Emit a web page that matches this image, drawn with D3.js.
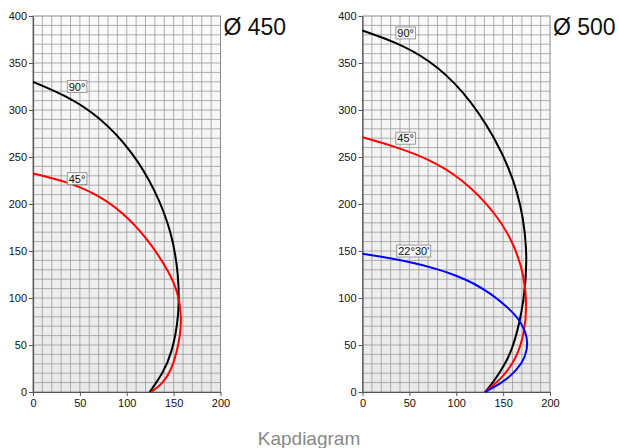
<!DOCTYPE html>
<html>
<head>
<meta charset="utf-8">
<script src="https://cdn.jsdelivr.net/npm/d3@7"></script>
<style>
body{margin:0;background:#fff;}
svg{display:block;font-family:"Liberation Sans",Arial,Helvetica,sans-serif;}
</style>
</head>
<body>
<svg id="chart" width="619" height="448"></svg>
<script>
// ---- data ----
const xTicks = [0, 50, 100, 150, 200];
const yTicks = [0, 50, 100, 150, 200, 250, 300, 350, 400];
const titles = ["Ø 450", "Ø 500"];
const footer = "Kapdiagram";

const d450_90 = [[0,330],[35,315.5],[71,293],[106,256],[131,214],[148,170],[155.5,125],[156,80],[148,41],[138.6,20],[124.5,0]];
const d450_45 = [[0,232.5],[35.5,224],[71,209.5],[103,185],[128,155],[146,126],[155,105],[158.5,80],[157,60],[153,41],[147.5,23.4],[138.6,9.2],[126.2,0]];

const d500_90 = [[0,384.5],[35,372.5],[70.6,354],[106,323],[142,271],[167,214],[176.5,152],[173,98],[161.5,48],[150.4,26.7],[139.7,10.7],[130.8,0]];
const d500_45 = [[0,271],[35,261],[70.6,248],[106,227.5],[142,191],[161,158.7],[172.5,125],[175.5,90],[172.5,62.5],[165,37.4],[150.4,16],[130.8,0]];
const d500_22 = [[0,147],[50,139],[82.7,130],[100.5,123.7],[118.3,115.9],[136.1,105.2],[154,91],[166.4,78.5],[174,64.2],[176.5,51.8],[174,37.4],[164.7,23.2],[150.4,10.7],[130.8,0]];

const labels450 = [{t:"90°", x:36, y:325}, {t:"45°", x:36, y:227}];
const labels500 = [{t:"90°", x:35, y:382}, {t:"45°", x:35, y:270}, {t:"22°30'", x:36, y:150}];

const charts = [
  {left:33, title:titles[0], series:[{d:d450_90,c:"#000"},{d:d450_45,c:"#ff0000"}], labels:labels450},
  {left:362.5, title:titles[1], series:[{d:d500_90,c:"#000"},{d:d500_45,c:"#ff0000"},{d:d500_22,c:"#0000ff"}], labels:labels500}
];

// ---- drawing ----
const svg = d3.select("#chart");
const W = 187.5, H = 376, topY = 16;

const defs = svg.append("defs");
const grad = defs.append("linearGradient").attr("id","bg").attr("x1",0).attr("y1",0).attr("x2",0).attr("y2",1);
grad.append("stop").attr("offset","0%").attr("stop-color","#fbfbfb");
grad.append("stop").attr("offset","100%").attr("stop-color","#e9e9e9");

charts.forEach(ch => {
  const g = svg.append("g").attr("transform", `translate(${ch.left},${topY})`);
  const x = d3.scaleLinear().domain([0,200]).range([0,W]);
  const y = d3.scaleLinear().domain([0,400]).range([H,0]);

  g.append("rect").attr("width",W).attr("height",H).attr("fill","url(#bg)");

  // grid
  const gx = d3.range(10,200,10), gy = d3.range(10,400,10);
  g.append("g").selectAll("line").data(gx).join("line")
    .attr("x1",d=>x(d)).attr("x2",d=>x(d)).attr("y1",0).attr("y2",H)
    .attr("stroke","#9a9a9a").attr("stroke-width",0.8);
  g.append("g").selectAll("line").data(gy).join("line")
    .attr("y1",d=>y(d)).attr("y2",d=>y(d)).attr("x1",0).attr("x2",W)
    .attr("stroke","#9a9a9a").attr("stroke-width",0.8);

  // frame top/right
  g.append("rect").attr("width",W).attr("height",H).attr("fill","none")
    .attr("stroke","#8a8a8a").attr("stroke-width",1);

  // axes
  const ax = g.append("g").attr("transform",`translate(0,${H})`)
    .call(d3.axisBottom(x).tickValues(xTicks).tickSize(4).tickSizeOuter(0).tickPadding(3));
  const ay = g.append("g")
    .call(d3.axisLeft(y).tickValues(yTicks).tickSize(4).tickSizeOuter(0).tickPadding(2));
  [ax, ay].forEach(a => {
    a.select(".domain").attr("stroke","#555").attr("stroke-width",1.2);
    a.selectAll(".tick line").attr("stroke","#555");
    a.selectAll("text").attr("fill","#111").style("font-size","11px")
      .style("font-family",'"Liberation Sans",Arial,sans-serif');
  });

  // curves
  const line = d3.line().x(d=>x(d[0])).y(d=>y(d[1])).curve(d3.curveBasis);
  g.append("g").selectAll("path").data(ch.series).join("path")
    .attr("d", s => line(s.d)).attr("fill","none")
    .attr("stroke", s => s.c).attr("stroke-width",2);

  // labels
  const lg = g.append("g").selectAll("g").data(ch.labels).join("g")
    .attr("transform", d => `translate(${x(d.x)},${y(d.y)})`);
  lg.append("text").text(d=>d.t).attr("x",2).attr("y",4)
    .style("font-size","11px").attr("fill","#111");
  lg.each(function(){
    const t = d3.select(this).select("text").node().getBBox();
    d3.select(this).insert("rect","text")
      .attr("x",t.x-1.5).attr("y",-6).attr("width",t.width+3).attr("height",12)
      .attr("fill","#f4f4f4").attr("stroke","#888").attr("stroke-width",0.8);
  });

  // title
  svg.append("text").attr("x", ch.left + W + 3).attr("y", 35)
    .text(ch.title).style("font-size","23px").attr("fill","#111");
});

svg.append("text").attr("x",309).attr("y",445).attr("text-anchor","middle")
  .text(footer).style("font-size","19px").attr("fill","#888");
</script>
</body>
</html>
